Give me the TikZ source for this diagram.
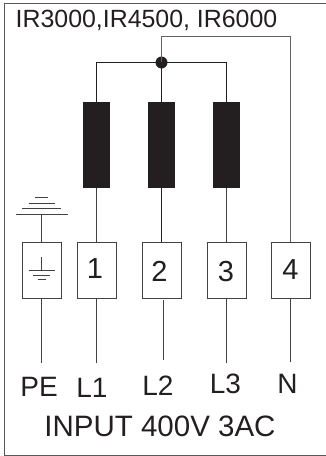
\documentclass[tikz,border=0pt]{standalone}
\usepackage{fontspec}
\setmainfont{Liberation Sans}
\definecolor{ink}{HTML}{231F20}
\tikzset{
 wire/.style={draw=ink!85,line width=0.9pt},
 heavy/.style={draw=ink,line width=1.1pt},
 term/.style={draw=ink!85,line width=1pt,fill=white,minimum width=39pt,minimum height=56.5pt,inner sep=0pt},
 num/.style={inner sep=0pt,anchor=base,text=ink,font=\fontsize{29}{29}\selectfont},
 coil/.style={fill=ink,draw=none,minimum width=27pt,minimum height=86pt,inner sep=0pt},
 lbl/.style={inner sep=0pt,anchor=base,text=ink,font=\fontsize{28}{28}\selectfont},
}
\begin{document}
\begin{tikzpicture}[x=1pt,y=-1pt]
\useasboundingbox (0,0) rectangle (326,456);
\draw[draw=ink!75,line width=1pt] (4.5,456) -- (4.5,3.5) -- (326,3.5) (4.5,455) -- (326,455);
\node[inner sep=0pt,anchor=base west,text=ink,font=\fontsize{24.9}{25}\selectfont] (title) at (15.5,27.5) {IR3000,IR4500, IR6000};
\node[term] (tpe) at (41.5,270.7) {};
\node[term] (t1) at (96.5,270.7) {};
\node[term] (t2) at (161.5,270.7) {};
\node[term] (t3) at (226.5,270.7) {};
\node[term] (t4) at (290.5,270.7) {};
\node[num] (n1) at (95,278.5) {1};
\node[num] (n2) at (159.5,281) {2};
\node[num] (n3) at (226,281) {3};
\node[num] (n4) at (290.5,279) {4};
\node[coil] (c1) at (96.5,145) {};
\node[coil] (c2) at (161.5,145) {};
\node[coil] (c3) at (226.5,145) {};
\fill[ink] (161.5,62.5) circle (6pt) coordinate (j);
\coordinate (nc) at (161.5,36);
\coordinate (nr) at (290,36);
\draw[wire,draw=ink!70] (j) -- (nc) -- (nr) -- (t4.north -| nr);
\draw[heavy] (c1.north) |- (j) -| (c3.north);
\draw[heavy] (j) -- (c2.north);
\draw[wire] (c1.south) -- (t1.north);
\draw[heavy] (c2.south) -- (t2.north);
\draw[wire] (c3.south) -- (t3.north);
% ground above PE
\coordinate (g0) at (41.5,214.5);
\draw[wire] (g0) -- (tpe.north);
\draw[wire] (15.5,214.5) -- (67.5,214.5);
\draw[wire] (22,208.7) -- (61,208.7);
\draw[wire] (28.5,203) -- (54.5,203);
\draw[wire] (35,197.5) -- (48,197.5);
% ground inside PE
\draw[wire] (41.5,257) -- (41.5,270.5);
\draw[wire] (28.5,270.5) -- (54.5,270.5);
\draw[wire] (33,275.5) -- (50,275.5);
\draw[wire] (37.5,279.5) -- (45.5,279.5);
% input wires
\coordinate (e0) at (41.5,363);
\coordinate (e1) at (96.5,363);
\coordinate (e2) at (163,360);
\coordinate (e3) at (226,363);
\coordinate (e4) at (290,362);
\draw[wire] (tpe.south) -- (e0);
\draw[wire] (t1.south) -- (e1);
\draw[wire] (163,300) -- (e2);
\draw[wire] (t3.south -| e3) -- (e3);
\draw[wire] (t4.south -| e4) -- (e4);
\node[lbl] (pe) at (39,396.7) {PE};
\node[lbl] (l1) at (92,397) {L1};
\node[lbl] (l2) at (158,395) {L2};
\node[lbl] (l3) at (225.5,393) {L3};
\node[lbl] (n) at (287.5,393) {N};
\node[inner sep=0pt,anchor=base,text=ink,font=\fontsize{29.5}{29}\selectfont] (inp) at (160,436.7) {INPUT 400V 3AC};
\end{tikzpicture}
\end{document}
